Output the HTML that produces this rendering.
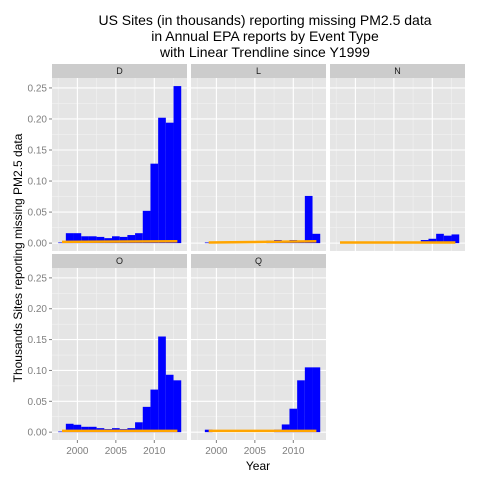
<!DOCTYPE html>
<html><head><meta charset="utf-8"><style>
body{margin:0;background:#fff;}
svg text{font-family:"Liberation Sans",sans-serif;}
</style></head><body>
<svg id="chart" width="480" height="480" viewBox="0 0 480 480">
<rect x="0" y="0" width="480" height="480" fill="#fff"/>
<g>
<text x="265" y="25" font-size="14" text-anchor="middle">US Sites (in thousands) reporting missing PM2.5 data</text>
<text x="265" y="41" font-size="14" text-anchor="middle">in Annual EPA reports by Event Type</text>
<text x="265" y="57" font-size="14" text-anchor="middle">with Linear Trendline since Y1999</text>
</g>
<text transform="translate(22,258) rotate(-90)" font-size="12" text-anchor="middle">Thousands Sites reporting missing PM2.5 data</text>
<text x="258" y="470" font-size="12" text-anchor="middle">Year</text>
<g id="panels"></g>
</svg>
<script>
const panelNames = ["D","L","N","O","Q"];
const yearsD = [1998,1999,2000,2001,2002,2003,2004,2005,2006,2007,2008,2009,2010,2011,2012,2013];
const valuesD = [0.001,0.016,0.016,0.011,0.011,0.010,0.008,0.011,0.010,0.013,0.016,0.052,0.128,0.202,0.194,0.253];
const yearsL = [1999,2000,2007,2008,2009,2010,2011,2012,2013];
const valuesL = [0.001,0.002,0.004,0.005,0.004,0.005,0.003,0.076,0.015];
const yearsN = [1999,2009,2010,2011,2012,2013];
const valuesN = [0.001,0.005,0.007,0.015,0.012,0.014];
const yearsO = [1998,1999,2000,2001,2002,2003,2004,2005,2006,2007,2008,2009,2010,2011,2012,2013];
const valuesO = [0.001,0.0136,0.012,0.0087,0.0087,0.0065,0.005,0.0065,0.005,0.0065,0.016,0.041,0.069,0.155,0.093,0.084];
const yearsQ = [1999,2008,2009,2010,2011,2012,2013];
const valuesQ = [0.004,0.004,0.0125,0.038,0.084,0.105,0.105];
const trendYears = [[1998,2013],[1999,2013],[1998,2013],[1998,2013],[1999,2013]];
const trendValues = [[0.002,0.003],[0.001,0.003],[0.001,0.001],[0.002,0.002],[0.002,0.002]];
const yTicks = [0,0.05,0.10,0.15,0.20,0.25];
const yTickLabels = ["0.00","0.05","0.10","0.15","0.20","0.25"];
const xTicks = [2000,2005,2010];

const allYears=[yearsD,yearsL,yearsN,yearsO,yearsQ];
const allVals=[valuesD,valuesL,valuesN,valuesO,valuesQ];
const NS="http://www.w3.org/2000/svg";
const root=document.getElementById("panels");
function mk(t,a,p){const e=document.createElementNS(NS,t);for(const k in a)e.setAttribute(k,a[k]);(p||root).appendChild(e);return e;}
const cols=[52,191,330], pw=135;
const rows=[{top:78,bot:251,strip:64},{top:268,bot:440,strip:254}];
const xMin=1996.7,xMax=2014.25,yMin=-0.0127,yMax=0.266;
panelNames.forEach((nm,i)=>{
  const c=i%3, r=Math.floor(i/3), px=cols[c], R=rows[r], ph=R.bot-R.top;
  const g=mk("g",{});
  
  
  const xs=v=>px+(v-xMin)/(xMax-xMin)*pw;
  const ys=v=>R.bot-(v-yMin)/(yMax-yMin)*ph;
  mk("rect",{x:px,y:R.strip,width:pw,height:R.top-R.strip,fill:"#cccccc"},g);
  const st=mk("text",{x:px+pw/2,y:R.top-4,"font-size":9,"text-anchor":"middle",fill:"#1a1a1a"},g);st.textContent=nm;
  
  
  mk("rect",{x:px,y:R.top,width:pw,height:ph,fill:"#e5e5e5"},g);
  for(let k=0;k<yTicks.length-1;k++){const y=ys((yTicks[k]+yTicks[k+1])/2);mk("line",{x1:px,x2:px+pw,y1:y,y2:y,stroke:"#f2f2f2","stroke-width":0.6},g);}
  [1997.5,2002.5,2007.5,2012.5].forEach(v=>{const x=xs(v);mk("line",{x1:x,x2:x,y1:R.top,y2:R.bot,stroke:"#f2f2f2","stroke-width":0.6},g);});
  yTicks.forEach(v=>{const y=ys(v);mk("line",{x1:px,x2:px+pw,y1:y,y2:y,stroke:"#fff","stroke-width":1.1},g);});
  xTicks.forEach(v=>{const x=xs(v);mk("line",{x1:x,x2:x,y1:R.top,y2:R.bot,stroke:"#fff","stroke-width":1.1},g);});
  allYears[i].forEach((yr,j)=>{
    const b=mk("rect",{x:xs(yr-0.5),y:ys(allVals[i][j]),width:xs(yr+0.5)-xs(yr-0.5),height:ys(0)-ys(allVals[i][j]),fill:"#0000ff"},g);
    
    
  });
  const tl=mk("line",{x1:xs(trendYears[i][0]),x2:xs(trendYears[i][1]),y1:ys(trendValues[i][0]),y2:ys(trendValues[i][1]),stroke:"#ffa500","stroke-width":2.5},g);
  
  
  if(c===0){yTicks.forEach((v,k)=>{const y=ys(v);mk("line",{x1:px-3,x2:px,y1:y,y2:y,stroke:"#7f7f7f"},g);
    const t=mk("text",{x:px-5,y:y+3.5,"font-size":10,"text-anchor":"end",fill:"#7f7f7f"},g);t.textContent=yTickLabels[k];
    
    });}
  if(r===1){xTicks.forEach(v=>{const x=xs(v);mk("line",{x1:x,x2:x,y1:R.bot,y2:R.bot+3,stroke:"#7f7f7f"},g);
    const t=mk("text",{x:x,y:R.bot+14,"font-size":10,"text-anchor":"middle",fill:"#7f7f7f"},g);t.textContent=String(v);
    
    });}
});
</script>
</body></html>
